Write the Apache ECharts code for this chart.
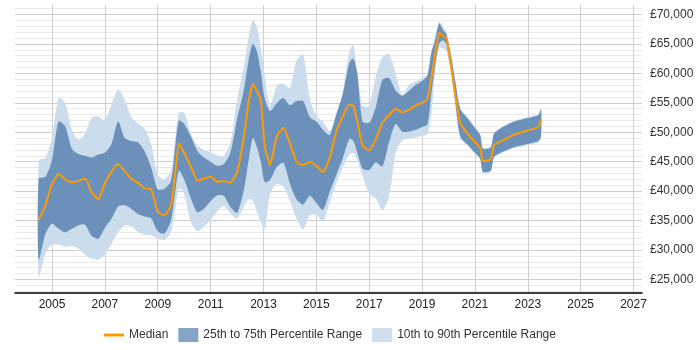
<!DOCTYPE html>
<html>
<head>
<meta charset="utf-8">
<script src="https://cdn.jsdelivr.net/npm/echarts@6/dist/echarts.min.js"></script>
<style>
  html, body { margin: 0; padding: 0; background: #fff; }
  #chart { width: 700px; height: 350px; }
</style>
</head>
<body>
<div id="chart"></div>
<script>
const years = [
  2004.5, 2004.75, 2005.0, 2005.25, 2005.5, 2005.75, 2006.0, 2006.25, 2006.5, 2006.75,
  2007.0, 2007.25, 2007.5, 2007.75, 2008.0, 2008.25, 2008.5, 2008.75, 2009.0, 2009.25,
  2009.5, 2009.65, 2009.8, 2010.0, 2010.25, 2010.5, 2010.75, 2011.0, 2011.25, 2011.5,
  2011.75, 2012.0, 2012.25, 2012.45, 2012.6, 2012.75, 2012.9, 2013.05, 2013.25, 2013.5,
  2013.75, 2014.0, 2014.25, 2014.5, 2014.75, 2015.0, 2015.25, 2015.5, 2015.75, 2016.0,
  2016.25, 2016.4, 2016.55, 2016.75, 2017.0, 2017.25, 2017.5, 2017.75, 2018.0, 2018.25,
  2018.5, 2018.75, 2019.0, 2019.2, 2019.35, 2019.5, 2019.65, 2019.8, 2019.92, 2020.1,
  2020.25, 2020.45, 2020.75, 2021.0, 2021.2, 2021.3, 2021.6, 2021.72, 2022.0, 2022.5,
  2023.0, 2023.4, 2023.5
];

const median = [
  35100, 37600, 41200, 42900, 42000, 41500, 41700, 42200, 39800, 38600,
  41300, 43300, 44600, 43400, 42100, 41400, 40500, 40300, 36500, 35900,
  37500, 42500, 48100, 46500, 44200, 41800, 42100, 42500, 41600, 41700,
  41400, 43200, 49000, 55500, 58200, 57000, 55500, 47500, 44400, 49300,
  50800, 48100, 45000, 44400, 45000, 44300, 43200, 45600, 50000, 52700,
  54700, 54500, 51800, 47700, 46900, 48800, 51600, 52900, 54000, 53400,
  53800, 54500, 55000, 55600, 59200, 63500, 66900, 66300, 66000, 61000,
  56500, 51500, 49600, 48300, 47400, 45100, 45400, 47800, 48500, 49600,
  50300, 50900, 52100
];

const p75 = [
  42150, 42400, 45300, 51800, 51000, 47200, 46300, 46000, 45700, 46200,
  46500, 48000, 51800, 49000, 48500, 48300, 46800, 44000, 40300, 40400,
  41700, 47000, 52000, 51400, 49300, 46800, 45700, 45000, 44300, 44600,
  46500, 52200, 57000, 62500, 65000, 63800, 60300, 55700, 53600, 54900,
  55800, 54600, 55300, 55300, 52600, 51800, 50400, 49500, 53000, 56500,
  61800, 62500, 60000, 51800, 51600, 54300, 58900, 59200, 57100, 56200,
  57000, 58000, 58700, 59600, 63500, 65700, 68500, 67300, 66600, 62800,
  58800, 53900, 52200, 50700, 49500, 47200, 47400, 49700, 50700, 51800,
  52400, 52900, 53900
];

const p25 = [
  28300, 32700, 34500, 33600, 33000, 33600, 34200, 34300, 32400, 31900,
  33800, 35300, 37400, 37600, 37000, 36100, 35700, 35400, 33200, 32800,
  35000, 39500, 43500, 42000, 38800, 36400, 37000, 38300, 39300, 39200,
  37300, 36300, 40000, 45600, 49000, 47500, 45000, 41500, 41900, 44100,
  44800, 41300, 38600, 37700, 39200, 38000, 36800, 39800, 42700, 45600,
  48900, 48500, 46500, 43800, 43600, 44900, 44200, 48300, 51400, 50100,
  50100, 50400, 50900, 51300, 56500, 61500, 65100, 65600, 64900, 60500,
  55300, 49200, 47800, 46500, 45500, 43300, 43500, 45800, 46600, 47500,
  48000, 48500, 49300
];

const p90 = [
  45300, 45600, 49000, 55800, 55000, 50400, 48700, 49800, 52500, 52700,
  52000, 54700, 57300, 55500, 52600, 51500, 50600, 48000, 42800, 42000,
  43500, 48500, 53300, 53300, 49800, 47700, 47000, 46600, 46100, 46000,
  48300, 55500, 61000, 66500, 69000, 67900, 64200, 59500, 54500, 57900,
  58200, 57500, 62200, 63200, 55800, 52700, 51800, 50200, 52500, 56800,
  63800, 64800, 60000, 54500, 54500, 59500, 62800, 63300, 60000, 56300,
  58000, 58600, 59200, 59800, 63500, 66500, 68700, 67900, 67100, 63500,
  59000, 54100, 52400, 50900, 49700, 47400, 47600, 49900, 50900, 52000,
  52600, 53100, 54100
];

const p10 = [
  25500, 29300, 31000, 31000, 30500, 30700, 30300, 29200, 28500, 28400,
  29300, 31000, 33000, 34200, 34000, 33100, 32600, 32500, 31900, 31700,
  33000, 36500, 40500, 39500, 34800, 33200, 34000, 35100, 36500, 37500,
  36200, 35300, 37300, 38700, 38300, 36600, 34800, 33500, 39500, 41200,
  40800, 38300, 35300, 33500, 35900, 36000, 34900, 38000, 41300, 44000,
  46200, 46500, 45300, 42600, 39500, 38800, 36800, 39000, 46500, 48600,
  48900, 49100, 49400, 49600, 53000, 60500, 64400, 64200, 63800, 60200,
  55100, 49000, 47600, 46300, 45300, 43100, 43300, 45600, 46400, 47300,
  47800, 48300, 49100
];

const xLabels = [2005, 2007, 2009, 2011, 2013, 2015, 2017, 2019, 2021, 2023, 2025, 2027];
const yLabels = [25000, 30000, 35000, 40000, 45000, 50000, 55000, 60000, 65000, 70000];

// minor grid every 1000
const yMinor = [];
for (let v = 23000; v <= 71000; v += 1000) yMinor.push(v);

const FONT = '"Liberation Sans", Arial, sans-serif';
const NAME_MID = '25th to 75th Percentile Range';
const NAME_OUT = '10th to 90th Percentile Range';
const Y_MIN = 22700;
const Y_MAX = 71600;

// band between two percentile arrays, drawn as one polygon through the axes
const band = (name, lo, hi, fill, legendColor, z) => ({
  name,
  type: 'custom',
  z,
  silent: true,
  data: years.map((x, i) => [x, lo[i], hi[i]]),
  encode: { x: 0, y: [1, 2] },
  itemStyle: { color: legendColor },
  renderItem: (params, api) => {
    if (params.dataIndex !== 0) return null;
    const top = years.map((x, i) => api.coord([x, hi[i]]));
    const bottom = years.map((x, i) => api.coord([x, lo[i]])).reverse();
    return {
      type: 'polygon',
      shape: { points: top.concat(bottom), smooth: 0.25 },
      style: { fill: fill }
    };
  }
});

const chart = echarts.init(document.getElementById('chart'), null, { renderer: 'canvas' });

chart.setOption({
  animation: false,
  grid: { left: 15, right: 58, top: 5, bottom: 57 },
  xAxis: {
    type: 'value',
    min: 2003.6,
    max: 2027.32,
    axisLine: { show: true, onZero: false, lineStyle: { color: '#000', width: 1.5 } },
    axisTick: { show: false, customValues: xLabels },
    axisLabel: {
      customValues: xLabels,
      formatter: (v) => String(v),
      fontFamily: FONT, fontSize: 12, color: '#222', margin: 6
    },
    splitLine: { show: true, lineStyle: { color: '#cfcfcf', width: 1 } }
  },
  yAxis: [
    {
      type: 'value',
      position: 'right',
      min: Y_MIN,
      max: Y_MAX,
      axisLine: { show: false },
      axisTick: { show: false, customValues: yMinor },
      axisLabel: { show: false },
      splitLine: { show: true, lineStyle: { color: '#e9e9e9', width: 1 } }
    },
    {
      type: 'value',
      position: 'right',
      min: Y_MIN,
      max: Y_MAX,
      axisLine: { show: false },
      axisTick: { show: false, customValues: yLabels },
      axisLabel: {
        customValues: yLabels,
        formatter: (v) => '£' + v.toLocaleString('en-GB'),
        fontFamily: FONT, fontSize: 12, color: '#333', margin: 8
      },
      splitLine: { show: true, lineStyle: { color: '#cfcfcf', width: 1 } }
    }
  ],
  legend: {
    top: 323,
    left: 99,
    itemWidth: 20,
    itemHeight: 14,
    itemGap: 10,
    textStyle: { fontFamily: FONT, fontSize: 12, color: '#333' },
    data: [
      { name: 'Median', icon: 'path://M0,0L20,0L20,3L0,3Z' },
      { name: NAME_MID, icon: 'rect' },
      { name: NAME_OUT, icon: 'rect' }
    ]
  },
  series: [
    band(NAME_OUT, p10, p90, '#cbdcec', '#cfdfee', 1),
    band(NAME_MID, p25, p75, '#6b91bb', '#86a4c5', 2),
    {
      name: 'Median',
      type: 'line',
      yAxisIndex: 0,
      data: years.map((x, i) => [x, median[i]]),
      z: 3,
      symbol: 'none',
      smooth: 0.15,
      itemStyle: { color: '#ff9900' },
      lineStyle: { color: '#ff9900', width: 2 }
    }
  ]
});
</script>
</body>
</html>
